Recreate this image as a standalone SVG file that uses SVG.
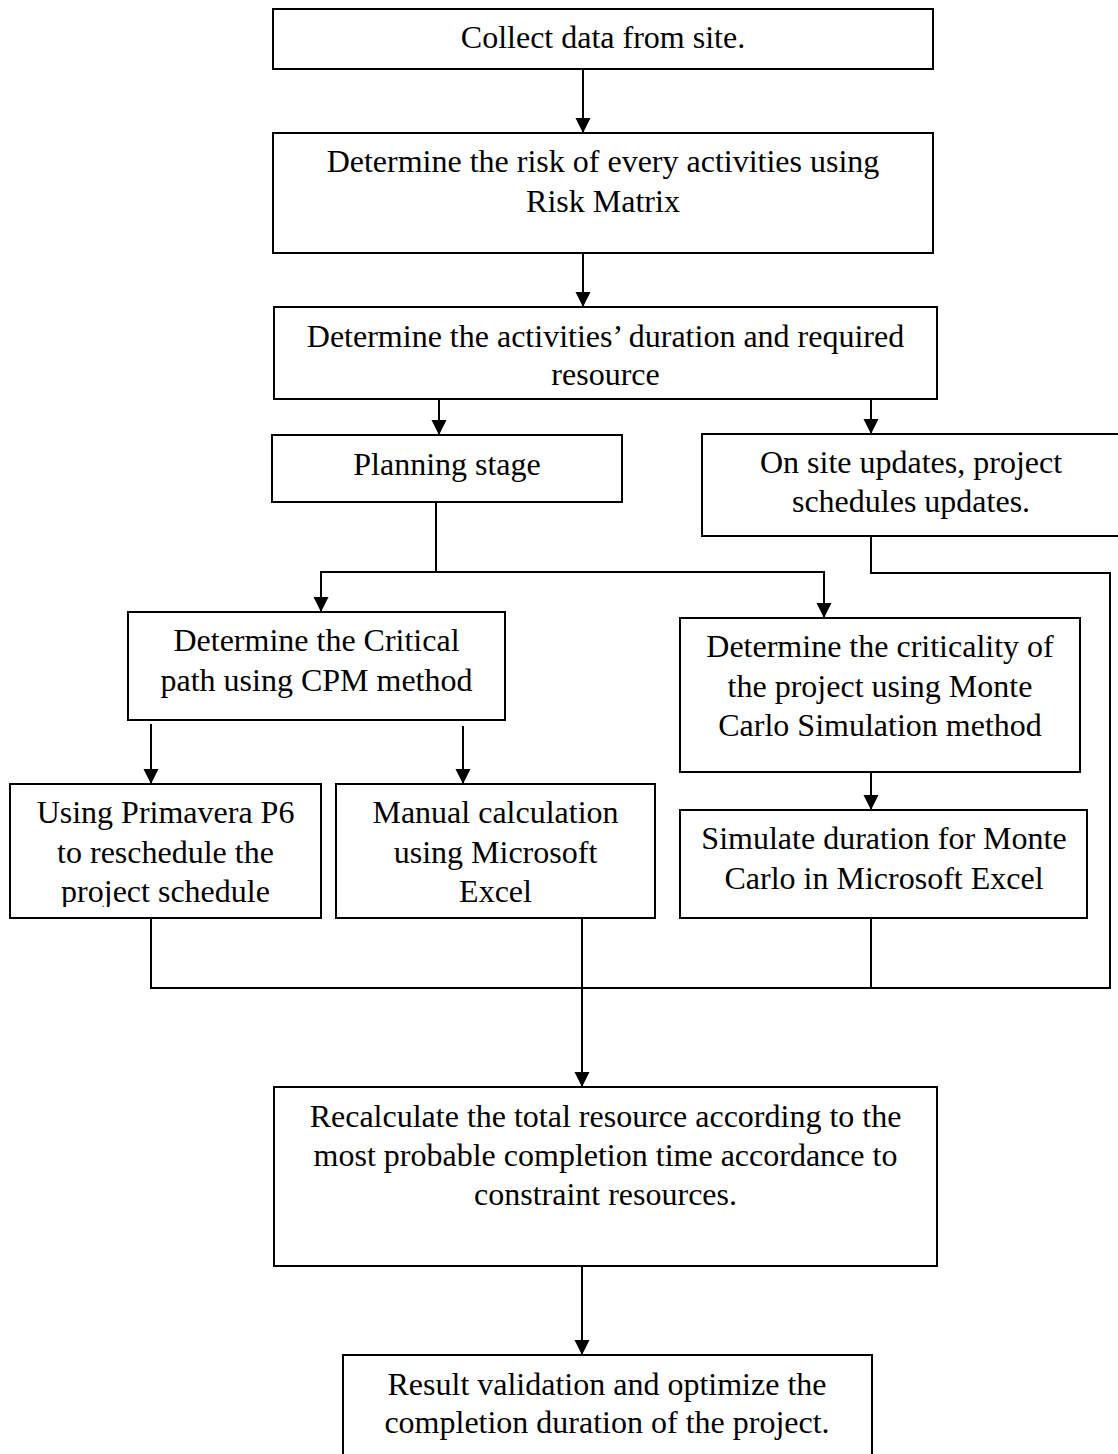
<svg xmlns="http://www.w3.org/2000/svg" width="1118" height="1454" viewBox="0 0 1118 1454">
<style>
  .box { fill: #fff; stroke: #000; stroke-width: 2; }
  .t { font-family: "Liberation Serif", "Times New Roman", serif; font-size: 32px; fill: #000; text-anchor: middle; }
  .ln { fill: none; stroke: #000; stroke-width: 2; }
  .ar { fill: none; stroke: #000; stroke-width: 2; marker-end: url(#ah); }
</style>
<defs>
  <marker id="ah" markerUnits="userSpaceOnUse" markerWidth="16" markerHeight="16" viewBox="0 0 16 16" refX="15" refY="7.5" orient="auto">
    <path d="M0,0 L15,7.5 L0,15 z" fill="#000"/>
  </marker>
  <clipPath id="clipP6"><rect x="0" y="780" width="330" height="127"/></clipPath>
</defs>
<rect x="0" y="0" width="1118" height="1454" fill="#fff"/>

<g id="connectors">
  <line class="ar" x1="583" y1="70" x2="583" y2="133"/>
  <line class="ar" x1="583" y1="254" x2="583" y2="307"/>
  <line class="ar" x1="439" y1="400" x2="439" y2="435"/>
  <line class="ar" x1="871" y1="400" x2="871" y2="434"/>
  <line class="ln" x1="436" y1="502" x2="436" y2="572"/>
  <line class="ln" x1="320" y1="572" x2="825" y2="572"/>
  <line class="ar" x1="321" y1="572" x2="321" y2="612"/>
  <line class="ar" x1="824" y1="572" x2="824" y2="618"/>
  <polyline class="ln" points="871,536 871,573 1110,573 1110,988"/>
  <line class="ar" x1="151" y1="724" x2="151" y2="784"/>
  <line class="ar" x1="463" y1="726" x2="463" y2="784"/>
  <line class="ar" x1="871" y1="772" x2="871" y2="810"/>
  <polyline class="ln" points="151,918 151,988 1111,988"/>
  <line class="ln" x1="871" y1="918" x2="871" y2="988"/>
  <line class="ar" x1="582" y1="918" x2="582" y2="1087"/>
  <line class="ar" x1="582" y1="1266" x2="582" y2="1355"/>
</g>

<g id="collect">
  <rect class="box" x="273" y="9" width="660" height="60"/>
  <text class="t" x="603" y="48">Collect data from site.</text>
</g>
<g id="risk">
  <rect class="box" x="273" y="133" width="660" height="120"/>
  <text class="t" x="603" y="172">Determine the risk of every activities using</text>
  <text class="t" x="603" y="212">Risk Matrix</text>
</g>
<g id="duration">
  <rect class="box" x="274" y="307" width="663" height="92"/>
  <text class="t" x="605.5" y="347">Determine the activities’ duration and required</text>
  <text class="t" x="605.5" y="385">resource</text>
</g>
<g id="planning">
  <rect class="box" x="272" y="435" width="350" height="67"/>
  <text class="t" x="447" y="475">Planning stage</text>
</g>
<g id="onsite">
  <rect class="box" x="702" y="434" width="420" height="102"/>
  <text class="t" x="911" y="473">On site updates, project</text>
  <text class="t" x="911" y="512">schedules updates.</text>
</g>
<g id="cpm">
  <rect class="box" x="128" y="612" width="377" height="108"/>
  <text class="t" x="316.5" y="651">Determine the Critical</text>
  <text class="t" x="316.5" y="691">path using CPM method</text>
</g>
<g id="montecarlo">
  <rect class="box" x="680" y="618" width="400" height="154"/>
  <text class="t" x="880" y="657">Determine the criticality of</text>
  <text class="t" x="880" y="697">the project using Monte</text>
  <text class="t" x="880" y="736">Carlo Simulation method</text>
</g>
<g id="primavera">
  <rect class="box" x="10" y="784" width="311" height="134"/>
  <text class="t" x="165.5" y="823">Using Primavera P6</text>
  <text class="t" x="165.5" y="863">to reschedule the</text>
  <text class="t" x="165.5" y="902" clip-path="url(#clipP6)">project schedule</text>
</g>
<g id="manual">
  <rect class="box" x="336" y="784" width="319" height="134"/>
  <text class="t" x="495.5" y="823">Manual calculation</text>
  <text class="t" x="495.5" y="863">using Microsoft</text>
  <text class="t" x="495.5" y="902">Excel</text>
</g>
<g id="simulate">
  <rect class="box" x="680" y="810" width="407" height="108"/>
  <text class="t" x="884" y="849">Simulate duration for Monte</text>
  <text class="t" x="884" y="889">Carlo in Microsoft Excel</text>
</g>
<g id="recalculate">
  <rect class="box" x="274" y="1087" width="663" height="179"/>
  <text class="t" x="605.5" y="1127">Recalculate the total resource according to the</text>
  <text class="t" x="605.5" y="1166">most probable completion time accordance to</text>
  <text class="t" x="605.5" y="1205">constraint resources.</text>
</g>
<g id="result">
  <rect class="box" x="343" y="1355" width="529" height="120"/>
  <text class="t" x="607" y="1395">Result validation and optimize the</text>
  <text class="t" x="607" y="1433">completion duration of the project.</text>
</g>
</svg>
